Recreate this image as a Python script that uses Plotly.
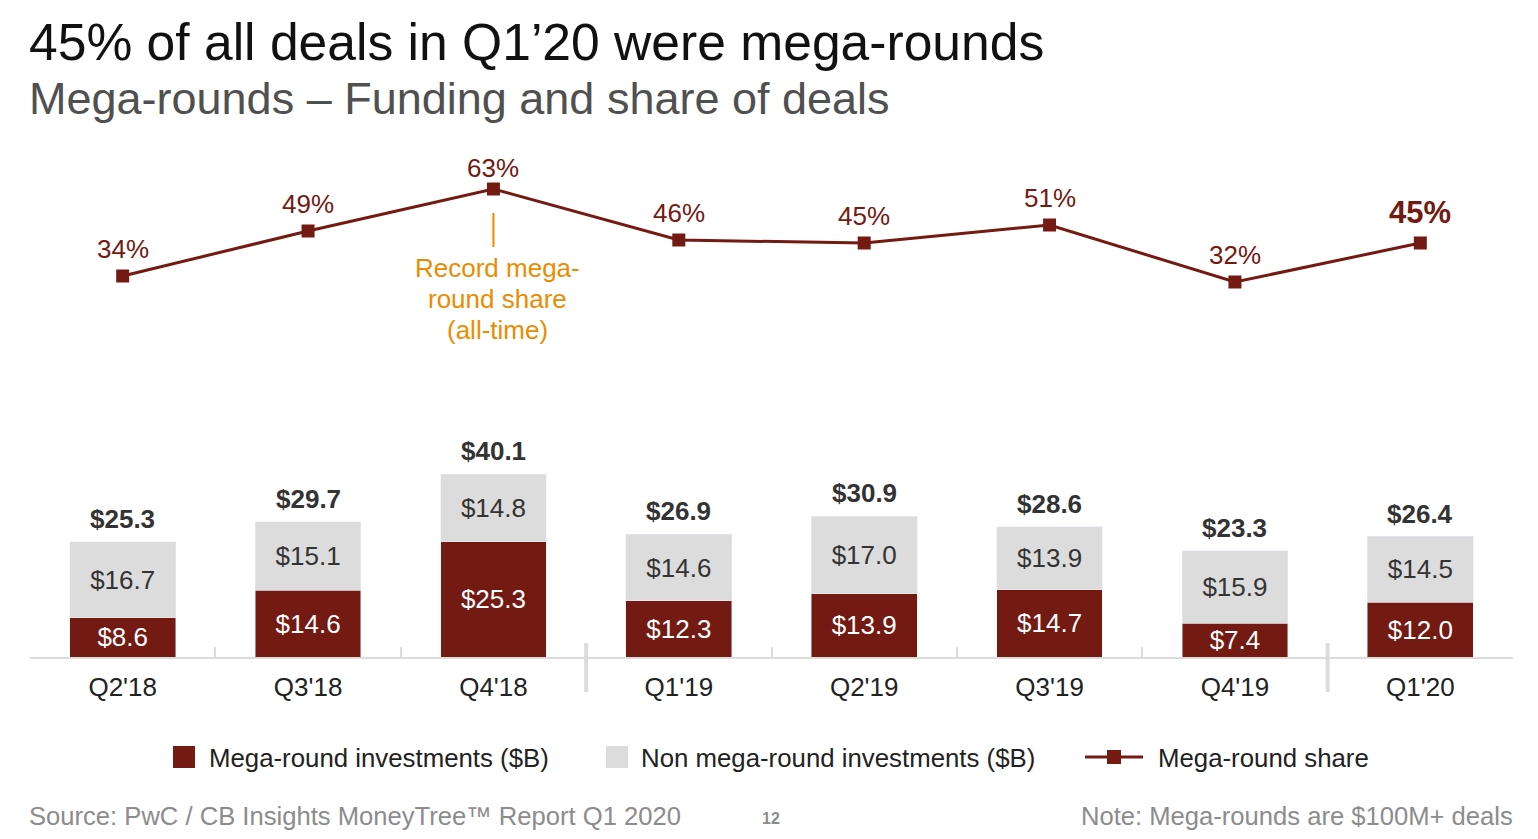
import plotly.graph_objects as go

quarters = ["Q2'18", "Q3'18", "Q4'18", "Q1'19", "Q2'19", "Q3'19", "Q4'19", "Q1'20"]
mega = [8.6, 14.6, 25.3, 12.3, 13.9, 14.7, 7.4, 12.0]
non_mega = [16.7, 15.1, 14.8, 14.6, 17.0, 13.9, 15.9, 14.5]
totals = [25.3, 29.7, 40.1, 26.9, 30.9, 28.6, 23.3, 26.4]
share = [34, 49, 63, 46, 45, 51, 32, 45]
record_lines = ["Record mega-", "round share", "(all-time)"]

DARK = "#731A12"
LIGHT = "#DCDCDC"
ORANGE = "#EB8C00"
FONT = "Liberation Sans, Arial, sans-serif"
FS = 26

# page offset (body margin 8px)
OFF = 8
PL, PR = 30, 1513       # plot left/right in page px
PT, PB = 140, 657       # plot top/bottom in page px

fig = go.Figure()
fig.add_trace(go.Bar(
    x=quarters, y=mega, name="Mega-round investments ($B)", marker_color=DARK,
    text=[f"${v:.1f}" for v in mega], textposition="inside", insidetextanchor="middle",
    constraintext="none", textangle=0,
    textfont=dict(color="white", size=FS, family=FONT), width=0.57, cliponaxis=False))
fig.add_trace(go.Bar(
    x=quarters, y=non_mega, name="Non mega-round investments ($B)", marker_color=LIGHT,
    text=[f"${v:.1f}" for v in non_mega], textposition="inside", insidetextanchor="middle",
    constraintext="none", textangle=0,
    textfont=dict(color="#333333", size=FS, family=FONT), width=0.57, cliponaxis=False))
fig.add_trace(go.Scatter(
    x=quarters, y=share, yaxis="y2", mode="lines+markers", name="Mega-round share",
    line=dict(color=DARK, width=3), marker=dict(symbol="square", size=13, color=DARK),
    cliponaxis=False))


def px_x(px):
    return (px - PL) / (PR - PL)


def px_y(py):
    return (PB - py) / (PB - PT)


annotations = []
for q, t in zip(quarters, totals):
    annotations.append(dict(x=q, y=t, xref="x", yref="y", text=f"<b>${t:.1f}</b>",
                            showarrow=False, yanchor="bottom", yshift=6,
                            font=dict(size=FS, color="#333333", family=FONT)))
smax = max(share)
for i, (q, s) in enumerate(zip(quarters, share)):
    last = i == len(share) - 1
    ys = 11 if last else (4 if s == smax else 10)
    annotations.append(dict(x=q, y=s, xref="x", yref="y2",
                            text=f"<b>{s}%</b>" if last else f"{s}%",
                            showarrow=False, yanchor="bottom", yshift=ys,
                            font=dict(size=31 if last else FS, color=DARK, family=FONT)))

# record annotation, one line each (31px line spacing)
for k, line in enumerate(record_lines):
    annotations.append(dict(x=quarters[2], y=px_y(268 + 31 * k), xref="x", yref="paper",
                            xshift=4, text=line, showarrow=False, yanchor="middle",
                            font=dict(size=FS, color=ORANGE, family=FONT)))

# titles
annotations.append(dict(x=0, y=px_y(42), xref="paper", yref="paper", xshift=-3,
                        text="45% of all deals in Q1’20 were mega-rounds", showarrow=False,
                        xanchor="left", yanchor="middle",
                        font=dict(size=51.6, color="#111111", family=FONT)))
annotations.append(dict(x=0, y=px_y(99), xref="paper", yref="paper", xshift=-3,
                        text="Mega-rounds – Funding and share of deals", showarrow=False,
                        xanchor="left", yanchor="middle",
                        font=dict(size=45, color="#505050", family=FONT)))

# footer
annotations.append(dict(x=px_x(30), y=px_y(816), xref="paper", yref="paper", xshift=-3,
                        text="Source: PwC / CB Insights MoneyTree™ Report Q1 2020",
                        showarrow=False, xanchor="left", yanchor="middle",
                        font=dict(size=25.6, color="#8C8C8C", family=FONT)))
annotations.append(dict(x=px_x(771), y=px_y(818), xref="paper", yref="paper",
                        text="<b>12</b>", showarrow=False, xanchor="center", yanchor="middle",
                        font=dict(size=16, color="#8C8C8C", family=FONT)))
annotations.append(dict(x=px_x(1513), y=px_y(816), xref="paper", yref="paper", xshift=2,
                        text="Note: Mega-rounds are $100M+ deals",
                        showarrow=False, xanchor="right", yanchor="middle",
                        font=dict(size=25.6, color="#8C8C8C", family=FONT)))

# legend (manual)
legend_labels = ["Mega-round investments ($B)", "Non mega-round investments ($B)", "Mega-round share"]
legend_text_x = [207, 639, 1156]
for label, tx in zip(legend_labels, legend_text_x):
    annotations.append(dict(x=px_x(tx), y=px_y(758), xref="paper", yref="paper",
                            text=label, showarrow=False, xanchor="left", yanchor="middle",
                            font=dict(size=25.8, color="#222222", family=FONT)))
shapes = []
shapes.append(dict(type="rect", xref="paper", yref="paper", x0=px_x(173), x1=px_x(195),
                   y0=px_y(768), y1=px_y(746), fillcolor=DARK, line_width=0))
shapes.append(dict(type="rect", xref="paper", yref="paper", x0=px_x(606), x1=px_x(628),
                   y0=px_y(768), y1=px_y(746), fillcolor=LIGHT, line_width=0))
shapes.append(dict(type="line", xref="paper", yref="paper", x0=px_x(1085), x1=px_x(1143),
                   y0=px_y(757), y1=px_y(757), line=dict(color=DARK, width=3)))
shapes.append(dict(type="rect", xref="paper", yref="paper", x0=px_x(1107), x1=px_x(1121),
                   y0=px_y(764), y1=px_y(750), fillcolor=DARK, line_width=0))

# separators (year boundaries)
for xs in (2.5, 6.5):
    shapes.append(dict(type="line", xref="x", yref="paper", x0=xs, x1=xs,
                       y0=px_y(643), y1=px_y(692), line=dict(color=LIGHT, width=4)))
# record annotation connector
shapes.append(dict(type="line", xref="x", yref="paper", x0=2, x1=2,
                   y0=px_y(213), y1=px_y(247), line=dict(color=ORANGE, width=2)))

W, H = 1538 - 2 * OFF, 839 - 2 * OFF
fig.update_layout(
    width=W, height=H,
    margin=dict(l=PL - OFF, r=(W + OFF) - PR, t=PT - OFF, b=(H + OFF) - PB),
    barmode="stack", showlegend=False,
    plot_bgcolor="white", paper_bgcolor="white",
    font=dict(family=FONT, size=FS, color="#222222"),
    xaxis=dict(range=[-0.5, 7.5], showline=True, linecolor=LIGHT, linewidth=1.5,
               ticks="inside", tickson="boundaries", ticklen=10, tickcolor=LIGHT,
               tickwidth=1.5, ticklabelstandoff=6, showgrid=False,
               tickfont=dict(size=FS, color="#222222", family=FONT)),
    yaxis=dict(range=[0, (PB - PT) / 4.56], visible=False, showgrid=False),
    yaxis2=dict(range=[-93, -93 + (PB - PT) / 3], overlaying="y", visible=False, showgrid=False),
    annotations=annotations, shapes=shapes,
)

fig.write_html("out.html")
